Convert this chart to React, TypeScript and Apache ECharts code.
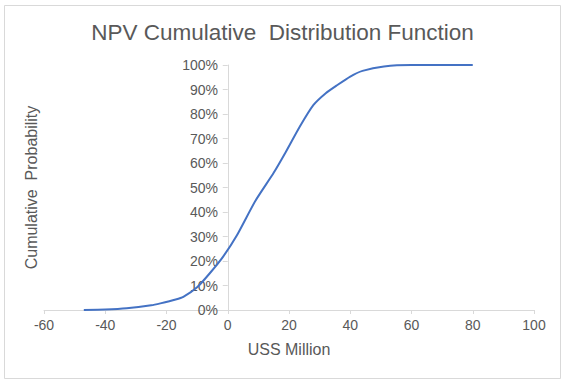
import React, { useEffect, useRef } from "react";
import * as echarts from "echarts";

const npvMillion = [-47, -40, -33, -25, -22, -17, -14.5, -10, -6, -1.5, 3, 9, 15, 19, 23.5, 28, 32, 35.5, 40, 44, 51, 60, 70, 80];
const cumulativePct = [0, 0.2, 0.7, 1.9, 2.7, 4.3, 5.4, 9.3, 14.8, 21.8, 30.5, 44.5, 56, 64.6, 74.8, 83.7, 88.5, 91.6, 95.3, 97.6, 99.4, 100, 100, 100];
const titleText = "NPV Cumulative  Distribution Function";
const xTitle = "USS Million";
const yTitle = "Cumulative  Probability";

const FONT = "'Liberation Sans', Arial, sans-serif";
const TXT = "#595959";

export default function App() {
  const ref = useRef<HTMLDivElement>(null);
  useEffect(() => {
    if (!ref.current) return;
    const chart = echarts.init(ref.current, null, { renderer: "svg" });
    chart.setOption({
      animation: false,
      backgroundColor: "#ffffff",
      textStyle: { fontFamily: FONT },
      title: {
        text: titleText,
        left: "center",
        top: 16,
        textStyle: { fontFamily: FONT, fontSize: 22.5, fontWeight: "normal", color: TXT },
      },
      graphic: [
        {
          type: "rect",
          shape: { x: 4.5, y: 5.5, width: 556, height: 373 },
          style: { fill: "none", stroke: "#d9d9d9", lineWidth: 1 },
          silent: true,
        },
      ],
      grid: { left: 44, right: 31, top: 65, bottom: 73, containLabel: false, outerBoundsMode: "none" },
      xAxis: {
        type: "value",
        min: -60,
        max: 100,
        interval: 20,
        name: xTitle,
        nameLocation: "middle",
        nameGap: 31,
        nameTextStyle: { fontFamily: FONT, fontSize: 16, color: TXT },
        axisLine: { onZero: false, lineStyle: { color: "#d9d9d9", width: 1 } },
        axisTick: { show: true, length: 4, lineStyle: { color: "#d9d9d9" } },
        axisLabel: { fontFamily: FONT, fontSize: 14, color: TXT, margin: 8 },
        splitLine: { show: false },
      },
      yAxis: {
        type: "value",
        min: 0,
        max: 100,
        interval: 10,
        name: yTitle,
        nameLocation: "middle",
        nameGap: 5,
        nameRotate: 90,
        nameTextStyle: { fontFamily: FONT, fontSize: 16, color: TXT },
        axisLine: { show: true, onZero: true, lineStyle: { color: "#d9d9d9", width: 1 } },
        axisTick: { show: true, length: 5, lineStyle: { color: "#d9d9d9" } },
        axisLabel: { fontFamily: FONT, fontSize: 14, color: TXT, margin: -174, formatter: "{value}%" },
        splitLine: { show: false },
      },
      series: [
        {
          type: "line",
          data: npvMillion.map((x, i) => [x, cumulativePct[i]]),
          showSymbol: false,
          smooth: 0.2,
          lineStyle: { color: "#4472c4", width: 2 },
          itemStyle: { color: "#4472c4" },
        },
      ],
    });
    return () => chart.dispose();
  }, []);
  return (
    <div
      ref={ref}
      style={{ position: "absolute", left: 0, top: 0, width: 565, height: 383 }}
    />
  );
}
